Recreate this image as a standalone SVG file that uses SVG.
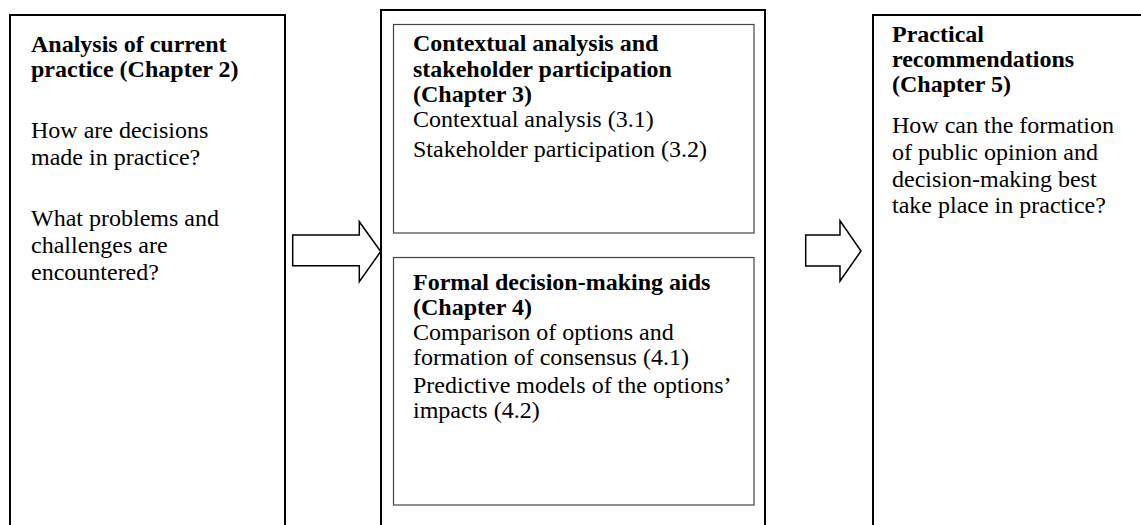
<svg xmlns="http://www.w3.org/2000/svg" width="1141" height="525" viewBox="0 0 1141 525">
<style>
.outer{fill:#fff;stroke:#000;stroke-width:2}
.inner{fill:#fff;stroke:#444;stroke-width:1.2}
.arrow{fill:#fff;stroke:#000;stroke-width:1.5;stroke-linejoin:miter}
text{font-family:"Liberation Serif","Times New Roman",serif;font-size:24px;fill:#000}
.b{font-weight:bold}
</style>
<rect width="1141" height="525" fill="#fff"/>
<g id="node-current-practice">
<rect class="outer" x="10" y="15" width="275" height="530"/>
<text x="31" class="b"><tspan x="31" y="52">Analysis of current</tspan><tspan x="31" y="77">practice (Chapter 2)</tspan></text>
<text x="31"><tspan x="31" y="138">How are decisions</tspan><tspan x="31" y="165">made in practice?</tspan><tspan x="31" y="226">What problems and</tspan><tspan x="31" y="253">challenges are</tspan><tspan x="31" y="280">encountered?</tspan></text>
</g>
<g id="node-middle">
<rect class="outer" x="381" y="10" width="384" height="535"/>
</g>
<g id="node-chapter3">
<rect class="inner" x="393.5" y="24.5" width="360.5" height="208.5"/>
<text class="b"><tspan x="413" y="51">Contextual analysis and</tspan><tspan x="413" y="76.5">stakeholder participation</tspan><tspan x="413" y="102">(Chapter 3)</tspan></text>
<text><tspan x="413" y="127">Contextual analysis (3.1)</tspan><tspan x="413" y="157">Stakeholder participation (3.2)</tspan></text>
</g>
<g id="node-chapter4">
<rect class="inner" x="393.5" y="257.5" width="360.5" height="247.5"/>
<text class="b"><tspan x="413" y="290">Formal decision-making aids</tspan><tspan x="413" y="315">(Chapter 4)</tspan></text>
<text><tspan x="413" y="340">Comparison of options and</tspan><tspan x="413" y="365">formation of consensus (4.1)</tspan><tspan x="413" y="393">Predictive models of the options’</tspan><tspan x="413" y="418">impacts (4.2)</tspan></text>
</g>
<g id="node-recommendations">
<rect class="outer" x="873" y="15" width="300" height="530"/>
<text class="b"><tspan x="892" y="42">Practical</tspan><tspan x="892" y="67">recommendations</tspan><tspan x="892" y="92">(Chapter 5)</tspan></text>
<text><tspan x="892" y="133">How can the formation</tspan><tspan x="892" y="160">of public opinion and</tspan><tspan x="892" y="187">decision-making best</tspan><tspan x="892" y="213">take place in practice?</tspan></text>
</g>
<g id="connectors">
<polygon class="arrow" points="292.7,235 359.3,235 359.3,221.7 380.7,251.5 359.3,281.7 359.3,265.7 292.7,265.7"/>
<polygon class="arrow" points="805.7,235 840,235 840,220.7 861,251 840,281 840,266 805.7,266"/>
</g>
</svg>
